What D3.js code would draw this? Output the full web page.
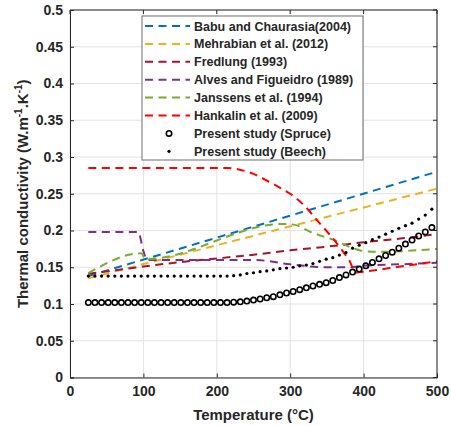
<!DOCTYPE html>
<html>
<head>
<meta charset="utf-8">
<script src="https://cdn.jsdelivr.net/npm/d3@7"></script>
<style>
body { margin:0; background:#fff; }
text { font-family: "Liberation Sans", Arial, sans-serif; font-weight: bold; fill:#262626; }
</style>
</head>
<body>
<div id="chart"></div>
<script>
// temperatures of the present study measurements (°C)
var studyT = [25,34,43,52,61,70,79,88,97,106,115,124,133,142,151,160,169,178,187,196,205,214,
	223,232,241,250,259,268,277,286,295,304,313,322,331,340,349,358,367,376,385,394,403,412,421,430,
	439,448,457,466,475,484,493];
var spruceK = [0.102,0.102,0.102,0.102,0.102,0.102,0.102,0.102,0.102,0.102,0.102,0.102,0.102,0.102,
	0.102,0.102,0.102,0.102,0.102,0.102,0.102,0.102,
	0.1025,0.103,0.104,0.1053,0.1068,0.1085,0.110,0.1125,0.115,0.117,0.1195,0.122,0.1245,0.1268,
	0.129,0.132,0.136,0.1395,0.1435,0.1475,0.152,0.1565,0.1615,0.166,0.1705,0.176,0.1815,0.187,
	0.1925,0.198,0.204];
var beechK = [0.138,0.138,0.138,0.138,0.138,0.138,0.138,0.138,0.138,0.138,0.138,0.138,0.138,0.138,
	0.138,0.138,0.138,0.138,0.138,0.138,0.138,0.138,
	0.1385,0.1395,0.1415,0.1425,0.144,0.145,0.1465,0.148,0.149,0.150,0.152,0.153,0.155,0.158,
	0.161,0.163,0.1665,0.170,0.176,0.180,0.1835,0.1875,0.191,0.195,0.199,0.203,0.2065,0.210,
	0.2155,0.221,0.229];

// literature correlations
var babuT = [25,500];
var babuK = [0.138,0.28];
var mehrT = [25,500];
var mehrK = [0.135,0.257];
var fredT = [25,100,150,200,250,300,350,400,450,500];
var fredK = [0.141,0.151,0.157,0.162,0.167,0.173,0.178,0.184,0.189,0.195];
var alvesT = [25,93,100,105,250,300,350,380,400,450,500];
var alvesK = [0.198,0.198,0.172,0.160,0.160,0.154,0.150,0.150,0.152,0.154,0.156];
var janT = [25,97,103,290,305,330,345,360,380,400,420,500];
var janK = [0.142,0.169,0.161,0.209,0.208,0.197,0.192,0.187,0.178,0.172,0.171,0.175];
var hankT = [25,100,200,215,230,250,270,290,300,320,340,355,370,380,390,400,450,500];
var hankK = [0.285,0.285,0.285,0.285,0.283,0.277,0.267,0.256,0.250,0.233,0.210,0.193,0.174,0.160,0.143,0.144,0.151,0.158];

var seriesNames = ["Babu and Chaurasia(2004)","Mehrabian et al. (2012)","Fredlung (1993)",
	"Alves and Figueidro (1989)","Janssens et al. (1994)","Hankalin et al. (2009)"];
var seriesColors = ["#0072BD","#EDB120","#A2142F","#7E2F8E","#77AC30","#FF0000"];
var studyNames = ["Present study (Spruce)","Present study (Beech)"];

var xTicks = [0,100,200,300,400,500];
var yTicks = [0,0.05,0.1,0.15,0.2,0.25,0.3,0.35,0.4,0.45,0.5];

var width = 451, height = 426;
var margin = {top:10, bottom:48.5, left:70, right:14};
var innerWidth = width - margin.left - margin.right;
var innerHeight = height - margin.top - margin.bottom;

var svg = d3.select("#chart").append("svg")
	.attr("width",width)
	.attr("height",height);

var xscale = d3.scaleLinear().domain([0,500]).range([0,innerWidth]);
var yscale = d3.scaleLinear().domain([0,0.5]).range([innerHeight,0]);

var g = svg.append("g")
	.attr("transform","translate("+margin.left+","+margin.top+")");

g.append("defs").append("clipPath").attr("id","clip")
	.append("rect").attr("width",innerWidth).attr("height",innerHeight);

// grid
g.selectAll(".gx").data(xTicks).enter().append("line")
	.attr("x1",d=>xscale(d)).attr("x2",d=>xscale(d))
	.attr("y1",0).attr("y2",innerHeight)
	.attr("stroke","#e3e3e3").attr("stroke-width",1);
g.selectAll(".gy").data(yTicks).enter().append("line")
	.attr("y1",d=>yscale(d)).attr("y2",d=>yscale(d))
	.attr("x1",0).attr("x2",innerWidth)
	.attr("stroke","#e3e3e3").attr("stroke-width",1);

var plot = g.append("g").attr("clip-path","url(#clip)");

var line = d3.line()
	.x(d=>xscale(d[0]))
	.y(d=>yscale(d[1]))
	.curve(d3.curveMonotoneX);

var litT = [babuT,mehrT,fredT,alvesT,janT,hankT];
var litK = [babuK,mehrK,fredK,alvesK,janK,hankK];

litT.forEach((tt,i) => {
	plot.append("path")
		.datum(d3.zip(tt,litK[i]))
		.attr("d",line)
		.attr("fill","none")
		.attr("stroke",seriesColors[i])
		.attr("stroke-width",2)
		.attr("stroke-dasharray","8,5.5");
});

// beech dots
plot.selectAll(".beech").data(d3.zip(studyT,beechK)).enter().append("circle")
	.attr("cx",d=>xscale(d[0]))
	.attr("cy",d=>yscale(d[1]))
	.attr("r",1.6)
	.attr("fill","#000");

// spruce circles
plot.selectAll(".spruce").data(d3.zip(studyT,spruceK)).enter().append("circle")
	.attr("cx",d=>xscale(d[0]))
	.attr("cy",d=>yscale(d[1]))
	.attr("r",2.7)
	.attr("fill","none")
	.attr("stroke","#000")
	.attr("stroke-width",1.6);

// axes
var xaxis = d3.axisBottom(xscale).tickValues(xTicks).tickSize(-4).tickPadding(9).tickFormat(d3.format("d"));
var yaxis = d3.axisLeft(yscale).tickValues(yTicks).tickSize(-4).tickPadding(7).tickFormat(d=>d3.format("")(d));

var gx = g.append("g").attr("transform","translate(0,"+innerHeight+")").call(xaxis);
var gy = g.append("g").call(yaxis);
[gx,gy].forEach(a => {
	a.select(".domain").attr("stroke","#262626");
	a.selectAll(".tick line").attr("stroke","#262626");
	a.selectAll(".tick text").style("font-size","14px").attr("fill","#262626")
		.style("font-family","'Liberation Sans', Arial, sans-serif").style("font-weight","bold");
});
// top and right box lines
g.append("line").attr("x1",0).attr("x2",innerWidth).attr("y1",0).attr("y2",0).attr("stroke","#262626");
g.append("line").attr("x1",innerWidth).attr("x2",innerWidth).attr("y1",0).attr("y2",innerHeight).attr("stroke","#262626");
g.selectAll(".tt").data(xTicks).enter().append("line")
	.attr("x1",d=>xscale(d)).attr("x2",d=>xscale(d)).attr("y1",0).attr("y2",4).attr("stroke","#262626");
g.selectAll(".tr").data(yTicks).enter().append("line")
	.attr("y1",d=>yscale(d)).attr("y2",d=>yscale(d)).attr("x1",innerWidth).attr("x2",innerWidth-4).attr("stroke","#262626");

// axis labels
svg.append("text")
	.attr("x",margin.left+innerWidth/2)
	.attr("y",420)
	.attr("text-anchor","middle")
	.style("font-size","15px")
	.text("Temperature (°C)");

var yl = svg.append("text")
	.attr("transform","translate(28,"+(margin.top+innerHeight/2)+") rotate(-90)")
	.attr("text-anchor","middle")
	.style("font-size","15px");
yl.append("tspan").text("Thermal conductivity (W.m");
yl.append("tspan").attr("dy",-6).style("font-size","10px").text("-1");
yl.append("tspan").attr("dy",6).text(".K");
yl.append("tspan").attr("dy",-6).style("font-size","10px").text("-1");
yl.append("tspan").attr("dy",6).text(")");

// legend
var lg = svg.append("g").attr("transform","translate(142,16)");
lg.append("rect").attr("width",221).attr("height",144)
	.attr("fill","#fff").attr("stroke","#6e6e6e").attr("stroke-width",1);
var rowY = i => 10 + i*17.9;
seriesNames.forEach((name,i) => {
	lg.append("line").attr("x1",3).attr("x2",48)
		.attr("y1",rowY(i)).attr("y2",rowY(i))
		.attr("stroke",seriesColors[i]).attr("stroke-width",2)
		.attr("stroke-dasharray","8,5.5");
	lg.append("text").attr("x",52).attr("y",rowY(i)+4.5)
		.style("font-size","12.5px").text(name);
});
lg.append("circle").attr("cx",27).attr("cy",rowY(6)).attr("r",2.7)
	.attr("fill","none").attr("stroke","#000").attr("stroke-width",1.6);
lg.append("circle").attr("cx",27).attr("cy",rowY(7)).attr("r",1.6).attr("fill","#000");
studyNames.forEach((name,i) => {
	lg.append("text").attr("x",52).attr("y",rowY(6+i)+4.5)
		.style("font-size","12.5px").text(name);
});
</script>
</body>
</html>
